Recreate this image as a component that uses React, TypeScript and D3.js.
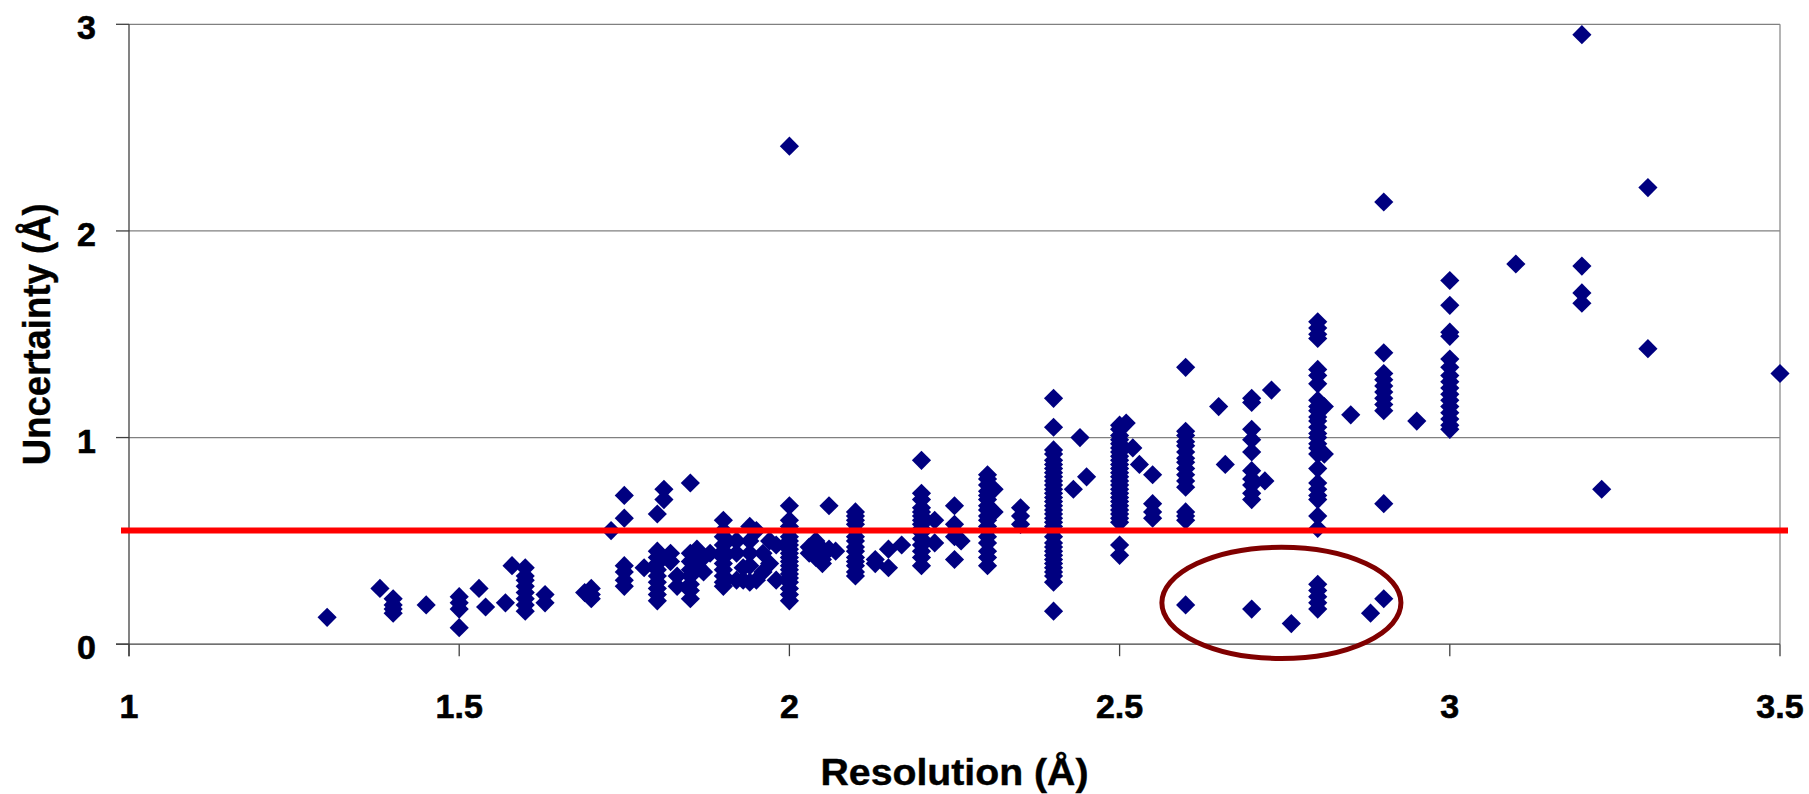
import React from 'react';
import * as d3 from 'd3';

const xTicks = [1, 1.5, 2, 2.5, 3, 3.5];
const xTickLabels = ['1', '1.5', '2', '2.5', '3', '3.5'];
const yTicks = [0, 1, 2, 3];
const yTickLabels = ['0', '1', '2', '3'];
const gridValues = [1, 2, 3];
const xTitle = 'Resolution (Å)';
const yTitle = 'Uncertainty (Å)';
const threshold = 0.55;
const highlight = { x: 2.745, y: 0.2, rx: 0.181, ry: 0.269 };

// resolution -> list of uncertainty values
const columns: [number, number[]][] = [
  [1.3, [0.13]],
  [1.38, [0.27]],
  [1.4, [0.22, 0.19, 0.17, 0.15]],
  [1.45, [0.19]],
  [1.5, [0.23, 0.2, 0.17, 0.08]],
  [1.53, [0.27]],
  [1.54, [0.18]],
  [1.57, [0.2]],
  [1.58, [0.38]],
  [1.6, [0.37, 0.33, 0.31, 0.28, 0.25, 0.22, 0.19, 0.16]],
  [1.63, [0.24, 0.2]],
  [1.69, [0.25]],
  [1.7, [0.27, 0.24, 0.22]],
  [1.73, [0.55]],
  [1.75, [0.72, 0.61, 0.38, 0.35, 0.31, 0.28]],
  [1.78, [0.37]],
  [1.8, [0.63, 0.45, 0.42, 0.39, 0.36, 0.33, 0.3, 0.27, 0.24, 0.21]],
  [1.81, [0.75, 0.7]],
  [1.82, [0.44, 0.4]],
  [1.83, [0.28, 0.33]],
  [1.85, [0.78, 0.44, 0.4, 0.36, 0.33, 0.29, 0.26, 0.22]],
  [1.86, [0.46, 0.38]],
  [1.87, [0.42, 0.35]],
  [1.88, [0.44]],
  [1.9, [0.6, 0.55, 0.52, 0.48, 0.45, 0.42, 0.39, 0.36, 0.33, 0.3, 0.28]],
  [1.92, [0.44, 0.5, 0.31]],
  [1.93, [0.31, 0.37]],
  [1.94, [0.57, 0.5, 0.44, 0.38, 0.3]],
  [1.95, [0.55, 0.31]],
  [1.96, [0.44, 0.35]],
  [1.97, [0.5, 0.39]],
  [1.98, [0.31, 0.48]],
  [2.0, [2.41, 0.67, 0.6, 0.57, 0.55, 0.52, 0.5, 0.48, 0.46, 0.44, 0.42, 0.4, 0.38, 0.36, 0.34, 0.32, 0.3, 0.27, 0.24, 0.21]],
  [2.03, [0.44, 0.47]],
  [2.04, [0.5, 0.42]],
  [2.05, [0.41, 0.39, 0.46]],
  [2.06, [0.67, 0.46]],
  [2.07, [0.45]],
  [2.1, [0.64, 0.62, 0.6, 0.58, 0.55, 0.52, 0.5, 0.47, 0.45, 0.42, 0.4, 0.38, 0.35, 0.33]],
  [2.13, [0.39, 0.41]],
  [2.15, [0.46, 0.37]],
  [2.17, [0.48]],
  [2.2, [0.89, 0.73, 0.7, 0.66, 0.64, 0.62, 0.6, 0.58, 0.56, 0.54, 0.51, 0.48, 0.45, 0.42, 0.38]],
  [2.22, [0.6, 0.49]],
  [2.25, [0.67, 0.58, 0.55, 0.52, 0.41]],
  [2.26, [0.5]],
  [2.3, [0.82, 0.8, 0.77, 0.74, 0.72, 0.7, 0.67, 0.65, 0.62, 0.6, 0.57, 0.55, 0.52, 0.49, 0.45, 0.42, 0.38]],
  [2.31, [0.75, 0.64]],
  [2.35, [0.66, 0.62, 0.58]],
  [2.4, [1.19, 1.05, 0.94, 0.92, 0.89, 0.87, 0.85, 0.83, 0.81, 0.79, 0.77, 0.75, 0.73, 0.71, 0.69, 0.67, 0.65, 0.63, 0.61, 0.59, 0.57, 0.55, 0.52, 0.49, 0.47, 0.45, 0.43, 0.41, 0.39, 0.37, 0.35, 0.33, 0.3, 0.16]],
  [2.43, [0.75]],
  [2.44, [1.0]],
  [2.45, [0.81]],
  [2.5, [1.06, 1.04, 1.01, 0.99, 0.97, 0.95, 0.93, 0.91, 0.89, 0.87, 0.85, 0.83, 0.81, 0.79, 0.77, 0.75, 0.73, 0.71, 0.69, 0.67, 0.65, 0.63, 0.61, 0.59, 0.48, 0.43]],
  [2.51, [1.07]],
  [2.52, [0.95]],
  [2.53, [0.87]],
  [2.55, [0.82, 0.68, 0.64, 0.61]],
  [2.6, [1.34, 1.03, 1.01, 0.98, 0.96, 0.93, 0.9, 0.88, 0.85, 0.82, 0.79, 0.76, 0.64, 0.62, 0.6, 0.19]],
  [2.65, [1.15]],
  [2.66, [0.87]],
  [2.7, [1.19, 1.17, 1.04, 0.99, 0.93, 0.84, 0.8, 0.77, 0.73, 0.7, 0.17]],
  [2.72, [0.79]],
  [2.73, [1.23]],
  [2.76, [0.1]],
  [2.8, [1.56, 1.53, 1.5, 1.48, 1.33, 1.3, 1.26, 1.18, 1.15, 1.13, 1.1, 1.08, 1.05, 1.02, 1.0, 0.97, 0.95, 0.92, 0.85, 0.78, 0.75, 0.72, 0.7, 0.62, 0.56, 0.29, 0.26, 0.23, 0.2, 0.17]],
  [2.81, [1.15, 0.92]],
  [2.85, [1.11]],
  [2.88, [0.15]],
  [2.9, [2.14, 1.41, 1.31, 1.28, 1.25, 1.22, 1.19, 1.16, 1.13, 0.68, 0.22]],
  [2.95, [1.08]],
  [3.0, [1.76, 1.64, 1.51, 1.49, 1.38, 1.34, 1.3, 1.27, 1.24, 1.21, 1.18, 1.15, 1.12, 1.09, 1.06, 1.04]],
  [3.1, [1.84]],
  [3.2, [2.95, 1.83, 1.7, 1.65]],
  [3.23, [0.75]],
  [3.3, [2.21, 1.43]],
  [3.5, [1.31]],
];

const W = 1809;
const H = 794;
const plotLeft = 129;
const plotRight = 1780;
const plotTop = 24.3;
const plotBottom = 644.2;

export default function App() {
  const x = d3.scaleLinear().domain([1, 3.5]).range([plotLeft, plotRight]);
  const y = d3.scaleLinear().domain([0, 3]).range([plotBottom, plotTop]);
  const points = columns.flatMap(([res, ys]) => ys.map((u) => ({ res, u })));
  const diamond = d3.symbol().type(d3.symbolSquare).size(184)() as string;
  const font = 'Liberation Sans, Arial, Helvetica, sans-serif';

  return (
    <svg
      width={W}
      height={H}
      style={{ position: 'absolute', left: 0, top: 0, background: '#fff' }}
      fontFamily={font}
    >
      <rect x={0} y={0} width={W} height={H} fill="#fff" />
      {/* grid lines */}
      {gridValues.map((g) => (
        <line key={'g' + g} x1={plotLeft} x2={plotRight} y1={y(g)} y2={y(g)} stroke="#808080" strokeWidth={1.3} />
      ))}
      {/* right border */}
      <line x1={plotRight} x2={plotRight} y1={plotTop} y2={plotBottom} stroke="#8c8c8c" strokeWidth={1.3} />
      {/* axes */}
      <line x1={plotLeft} x2={plotLeft} y1={plotTop} y2={plotBottom + 12} stroke="#404040" strokeWidth={1.3} />
      <line x1={plotLeft - 13} x2={plotRight} y1={plotBottom} y2={plotBottom} stroke="#404040" strokeWidth={1.3} />
      {yTicks.map((t) => (
        <line key={'yt' + t} x1={plotLeft - 13} x2={plotLeft} y1={y(t)} y2={y(t)} stroke="#404040" strokeWidth={1.3} />
      ))}
      {xTicks.map((t) => (
        <line key={'xt' + t} x1={x(t)} x2={x(t)} y1={plotBottom} y2={plotBottom + 12} stroke="#404040" strokeWidth={1.3} />
      ))}
      {/* tick labels */}
      {yTicks.map((t, i) => (
        <text key={'yl' + t} x={96} y={y(t) + 15} textAnchor="end" fontSize={34} fontWeight="bold" fill="#000" stroke="#000" strokeWidth={0.6}>
          {yTickLabels[i]}
        </text>
      ))}
      {xTicks.map((t, i) => (
        <text key={'xl' + t} x={x(t)} y={718} textAnchor="middle" fontSize={34} fontWeight="bold" fill="#000" stroke="#000" strokeWidth={0.6}>
          {xTickLabels[i]}
        </text>
      ))}
      {/* titles */}
      <text
        x={(plotLeft + plotRight) / 2}
        y={785}
        textAnchor="middle"
        fontSize={37}
        fontWeight="bold"
        textLength={268}
        lengthAdjust="spacingAndGlyphs"
        stroke="#000"
        strokeWidth={0.4}
      >
        {xTitle}
      </text>
      <text
        transform={`translate(50, ${(plotTop + plotBottom) / 2}) rotate(-90)`}
        textAnchor="middle"
        fontSize={39}
        fontWeight="bold"
        textLength={262}
        lengthAdjust="spacingAndGlyphs"
        stroke="#000"
        strokeWidth={0.4}
      >
        {yTitle}
      </text>
      {/* points */}
      {points.map((p, i) => (
        <path
          key={'p' + i}
          d={diamond}
          transform={`translate(${x(p.res)}, ${y(p.u)}) rotate(45)`}
          fill="#000080"
        />
      ))}
      {/* threshold line */}
      <line
        x1={x(1) - 8}
        x2={x(3.5) + 8}
        y1={y(threshold)}
        y2={y(threshold)}
        stroke="#ff0000"
        strokeWidth={6}
      />
      {/* highlight ellipse */}
      <ellipse
        cx={x(highlight.x)}
        cy={y(highlight.y)}
        rx={x(1 + highlight.rx) - x(1)}
        ry={y(0) - y(highlight.ry)}
        fill="none"
        stroke="#800000"
        strokeWidth={5}
      />
    </svg>
  );
}
